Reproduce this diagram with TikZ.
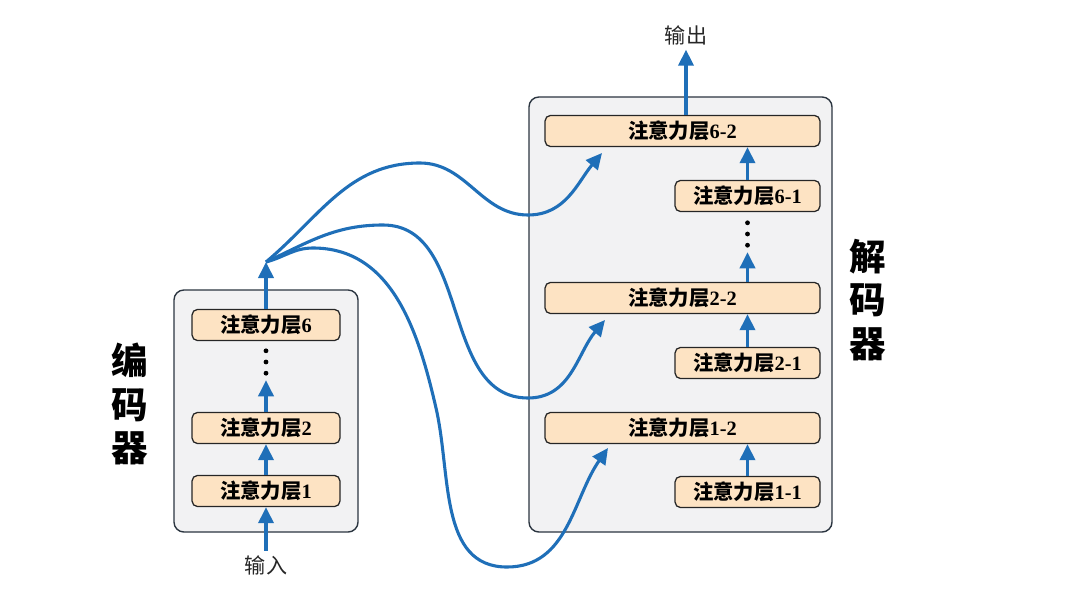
\documentclass[tikz,border=0pt]{standalone}
\usepackage{fontspec}
\setmainfont{Liberation Serif}
\newfontfamily\cjk{Noto Sans CJK SC}
\usetikzlibrary{arrows.meta}

\definecolor{myblue}{HTML}{1F6FB8}
\definecolor{mypeach}{HTML}{FDE3C3}
\definecolor{mygray}{HTML}{F2F2F3}
\definecolor{myedge}{HTML}{2B3540}

\newcommand{\layertext}[1]{{\cjk\bfseries 注意力层}\textbf{#1}}

\tikzset{mybox/.style={draw=myedge, line width=1pt, fill=mygray, rounded corners=7pt},
         mylayer/.style={draw=black!85, line width=0.9pt, fill=mypeach, rounded corners=4pt,
                         minimum height=0.78cm, inner sep=0pt, font=\fontsize{14.5}{14.5}\selectfont},
         myarrow/.style={draw=myblue, line width=2.2pt, -{Triangle[length=4mm,width=3.8mm]}},
         mydots/.style={minimum height=0.9cm, minimum width=0.3cm, inner sep=0pt},
         mytitle/.style={font=\cjk\bfseries\fontsize{26}{31}\selectfont, align=center},
         mylabel/.style={font=\cjk\fontsize{15}{15}\selectfont, text=black!85}}

\begin{document}
\begin{tikzpicture}
\useasboundingbox (0,0) rectangle (27,15.2);

% encoder
\node[mybox, minimum width=4.6cm, minimum height=6.05cm] (encbox) at (6.65,4.925) {};
\node[mylayer, minimum width=3.7cm] (enc1) at (6.65,2.925) {\layertext{1}};
\node[mylayer, minimum width=3.7cm] (enc2) at (6.65,4.5) {\layertext{2}};
\node[mydots] (encdots) at (6.65,6.15) {};
\node[mylayer, minimum width=3.7cm] (enc6) at (6.65,7.075) {\layertext{6}};
\node[mytitle] (enctitle) at (3.25,5.1) {编\\码\\器};
\node[mylabel] (inp) at (6.65,1.07) {输入};
\coordinate (src) at (6.65,8.65);

% decoder
\node[mybox, minimum width=7.575cm, minimum height=10.875cm] (decbox) at (17.0125,7.3375) {};
\node[mylayer, minimum width=3.625cm] (l11) at (18.6875,2.9) {\layertext{1-1}};
\node[mylayer, minimum width=6.875cm] (l12) at (17.0625,4.5) {\layertext{1-2}};
\node[mylayer, minimum width=3.625cm] (l21) at (18.6875,6.125) {\layertext{2-1}};
\node[mylayer, minimum width=6.875cm] (l22) at (17.0625,7.75) {\layertext{2-2}};
\node[mydots] (decdots) at (18.6875,9.35) {};
\node[mylayer, minimum width=3.625cm] (l61) at (18.6875,10.3) {\layertext{6-1}};
\node[mylayer, minimum width=6.875cm] (l62) at (17.0625,11.925) {\layertext{6-2}};
\node[mytitle] (dectitle) at (21.7,7.7) {解\\码\\器};
\node[mylabel] (outp) at (17.15,14.325) {输出};

% dots
\foreach \n in {encdots,decdots}
  \foreach \d in {-0.28,0,0.28}
    \fill (\n.center) ++(0,\d) circle (0.06);

% straight arrows
\draw[myarrow] (inp.north) -- (enc1.south);
\draw[myarrow] (enc1.north) -- (enc2.south);
\draw[myarrow] (enc2.north) -- (encdots.south);
\draw[myarrow] (enc6.north) -- (src);
\draw[myarrow] (l11.north) -- (l11.north |- l12.south);
\draw[myarrow] (l21.north) -- (l21.north |- l22.south);
\draw[myarrow] (decdots.south |- l22.north) -- (decdots.south);
\draw[myarrow] (l61.north) -- (l61.north |- l62.south);
\draw[myarrow] (outp.south |- l62.north) -- (outp.south);

% curves to the decoder
\coordinate (peak1) at (10.5,11.125);
\coordinate (dip1) at (13.2,9.825);
\coordinate (t1) at (15.05,11.375);
\coordinate (peak2) at (9.575,9.575);
\coordinate (dip2) at (13.2,5.25);
\coordinate (t2) at (15.125,7.2);
\coordinate (peak3) at (7.825,9.0);
\coordinate (mid3) at (10.9,5.0);
\coordinate (dip3) at (12.675,1.025);
\coordinate (t3) at (15.2,4.0);
\draw[myarrow] (src) to[out=40,in=180] (peak1) to[out=0,in=180] (dip1) to[out=0,in=230] (t1);
\draw[myarrow] (src) to[out=25,in=180] (peak2) to[out=0,in=180] (dip2) to[out=0,in=230] (t2);
\draw[myarrow] (src) to[out=15,in=180] (peak3) to[out=0,in=103] (mid3) to[out=-77,in=180] (dip3) to[out=0,in=235] (t3);

\end{tikzpicture}
\end{document}
